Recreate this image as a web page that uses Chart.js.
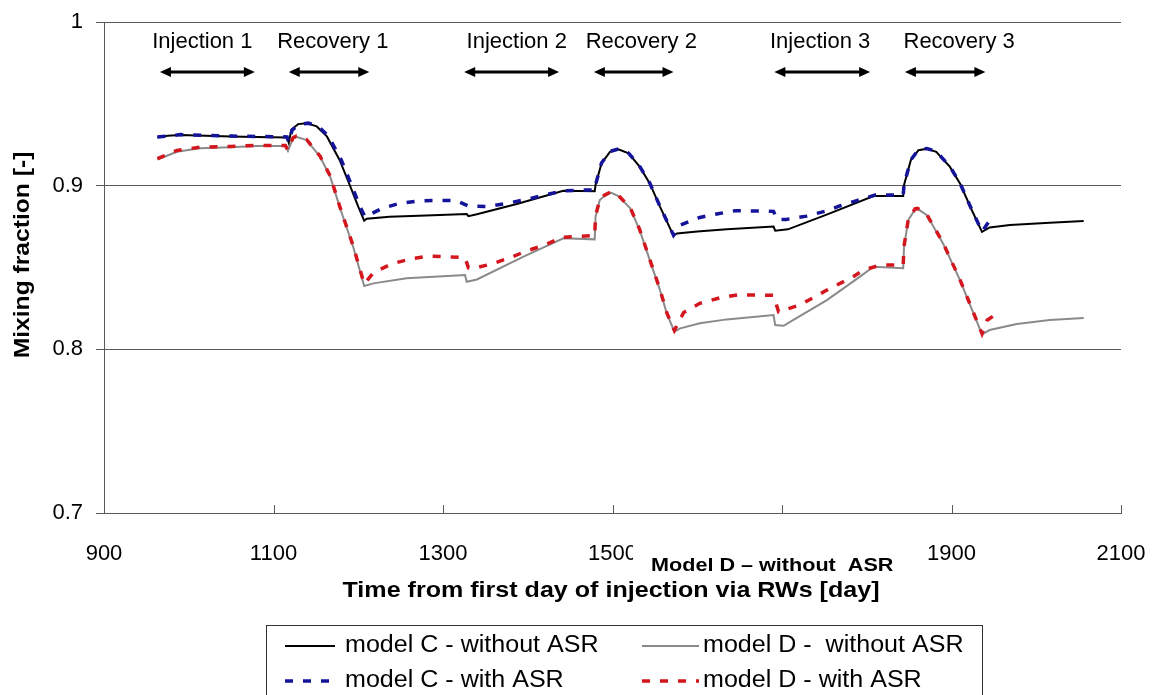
<!DOCTYPE html>
<html>
<head>
<meta charset="utf-8">
<script src="https://cdn.jsdelivr.net/npm/chart.js@4.4.1/dist/chart.umd.min.js"></script>
<style>
  html, body { margin: 0; padding: 0; background: #fff; }
  #wrap { width: 1156px; height: 695px; }
</style>
</head>
<body>
<div id="wrap"><canvas id="mixChart" width="1156" height="695"></canvas></div>
<script>
// axis ticks
const xTicks = [900, 1100, 1300, 1500, 1700, 1900, 2100];
const yTicks = [0.7, 0.8, 0.9, 1];

// model C - without ASR
const cNoDay = [963, 975, 990, 1020, 1050, 1080, 1116, 1118, 1121, 1129, 1139, 1151, 1163, 1178, 1190, 1200, 1207,
  1210, 1237, 1280, 1328, 1330, 1340, 1387, 1442, 1479, 1480, 1487, 1497, 1507, 1519, 1532, 1544, 1556, 1572,
  1576, 1600, 1635, 1690, 1692, 1707, 1755, 1808, 1843, 1844, 1852, 1861, 1871, 1882, 1898, 1910, 1924, 1936,
  1945, 1969, 2016, 2056];
const cNoVal = [0.9295, 0.9305, 0.9310, 0.9305, 0.9300, 0.9298, 0.9295, 0.9262, 0.9342, 0.9376, 0.9382, 0.9362, 0.9301, 0.9157, 0.9004, 0.8872, 0.8786,
  0.8798, 0.8810, 0.8818, 0.8827, 0.8814, 0.8825, 0.8888, 0.8969, 0.8966, 0.9004, 0.9136, 0.9207, 0.9222, 0.9197, 0.9116, 0.9014, 0.8872, 0.8694,
  0.8708, 0.8720, 0.8733, 0.8750, 0.8725, 0.8733, 0.8828, 0.8937, 0.8937, 0.9004, 0.9156, 0.9217, 0.9225, 0.9207, 0.9116, 0.9014, 0.8850, 0.8718,
  0.8745, 0.8759, 0.8773, 0.8784];

// model C - with ASR
const cAsrDay = [963, 990, 1020, 1050, 1080, 1116, 1118, 1122, 1131, 1141, 1153, 1165, 1180, 1192, 1202, 1208,
  1228, 1249, 1273, 1294, 1316, 1330, 1353, 1375, 1399, 1420, 1442, 1464, 1479, 1480, 1487, 1497, 1507, 1519,
  1532, 1544, 1556, 1572, 1580, 1603, 1623, 1645, 1674, 1690, 1694, 1705, 1729, 1753, 1768, 1790, 1810, 1843,
  1844, 1852, 1861, 1871, 1882, 1898, 1910, 1924, 1936, 1946];
const cAsrVal = [0.9297, 0.9312, 0.9307, 0.9303, 0.9301, 0.9298, 0.9265, 0.9340, 0.9376, 0.9382, 0.9362, 0.9301, 0.9157, 0.9004, 0.8872, 0.8810,
  0.8861, 0.8892, 0.8908, 0.8910, 0.8908, 0.8876, 0.8872, 0.8892, 0.8916, 0.8943, 0.8969, 0.8973, 0.8973, 0.9006, 0.9138, 0.9209, 0.9224, 0.9199,
  0.9118, 0.9016, 0.8874, 0.8697, 0.8759, 0.8806, 0.8827, 0.8847, 0.8845, 0.8843, 0.8794, 0.8794, 0.8814, 0.8847, 0.8876, 0.8912, 0.8943, 0.8943,
  0.9006, 0.9158, 0.9219, 0.9227, 0.9209, 0.9118, 0.9016, 0.8852, 0.8720, 0.8794];

// model D - without ASR
const dNoDay = [963, 986, 1013, 1049, 1080, 1114, 1117, 1123, 1127, 1139, 1155, 1167, 1178, 1182, 1194, 1207,
  1218, 1257, 1326, 1328, 1340, 1395, 1442, 1479, 1480, 1485, 1490, 1498, 1507, 1521, 1532, 1544, 1556, 1564,
  1573, 1580, 1603, 1635, 1690, 1692, 1702, 1710, 1753, 1792, 1808, 1843, 1844, 1849, 1857, 1860, 1871, 1890,
  1910, 1926, 1936, 1945, 1977, 2016, 2056];
const dNoVal = [0.9160, 0.9207, 0.9228, 0.9234, 0.9242, 0.9242, 0.9213, 0.9289, 0.9299, 0.9279, 0.9177, 0.9054, 0.8872, 0.8810, 0.8627, 0.8387,
  0.8403, 0.8434, 0.8454, 0.8413, 0.8427, 0.8566, 0.8678, 0.8672, 0.8810, 0.8912, 0.8935, 0.8958, 0.8936, 0.8861, 0.8729, 0.8545, 0.8362, 0.8220,
  0.8108, 0.8128, 0.8159, 0.8183, 0.8210, 0.8148, 0.8144, 0.8169, 0.8301, 0.8444, 0.8505, 0.8495, 0.8627, 0.8790, 0.8855, 0.8858, 0.8820, 0.8647,
  0.8423, 0.8220, 0.8092, 0.8118, 0.8155, 0.8179, 0.8191];

// model D - with ASR
const dAsrDay = [963, 986, 1013, 1049, 1080, 1114, 1117, 1123, 1127, 1139, 1155, 1167, 1178, 1182, 1194, 1207,
  1218, 1239, 1261, 1283, 1304, 1326, 1330, 1336, 1357, 1379, 1399, 1420, 1440, 1479, 1480, 1485, 1490, 1498,
  1507, 1521, 1532, 1544, 1556, 1564, 1573, 1584, 1603, 1627, 1647, 1670, 1690, 1696, 1721, 1753, 1784, 1796,
  1816, 1843, 1844, 1849, 1857, 1860, 1871, 1890, 1910, 1926, 1936, 1942, 1957];
const dAsrVal = [0.9165, 0.9215, 0.9235, 0.9240, 0.9246, 0.9245, 0.9218, 0.9292, 0.9302, 0.9282, 0.9180, 0.9058, 0.8876, 0.8814, 0.8632, 0.8400,
  0.8468, 0.8521, 0.8552, 0.8570, 0.8566, 0.8560, 0.8498, 0.8495, 0.8521, 0.8560, 0.8602, 0.8637, 0.8684, 0.8696, 0.8815, 0.8915, 0.8940, 0.8962,
  0.8940, 0.8865, 0.8733, 0.8549, 0.8366, 0.8224, 0.8115, 0.8225, 0.8281, 0.8315, 0.8332, 0.8332, 0.8330, 0.8230, 0.8271, 0.8362, 0.8444, 0.8484,
  0.8515, 0.8515, 0.8630, 0.8793, 0.8858, 0.8861, 0.8823, 0.8650, 0.8426, 0.8223, 0.8095, 0.8178, 0.8230];

// injection / recovery periods shown as arrows along the top
const phaseNames = ['Injection 1', 'Recovery 1', 'Injection 2', 'Recovery 2', 'Injection 3', 'Recovery 3'];
const phaseStart = [966, 1118, 1325, 1478, 1691, 1845];
const phaseEnd = [1078, 1213, 1437, 1572, 1804, 1940];
const phaseLabelDay = [1016, 1170, 1387, 1534, 1745, 1909];
const arrowLevel = 0.9694;
const phaseLabelLevel = 0.9880;

const FONT = "'Liberation Sans', Arial, sans-serif";

function pts(days, vals) {
  return days.map((d, i) => ({ x: d, y: vals[i] }));
}

// text with a slight horizontal stretch
function stretchText(ctx, text, x, y, font, align, sx) {
  ctx.save();
  ctx.font = font;
  ctx.textBaseline = 'middle';
  ctx.textAlign = align;
  ctx.translate(x, y);
  ctx.scale(sx, 1);
  ctx.fillStyle = '#000';
  ctx.fillText(text, 0, 0);
  ctx.restore();
}

function arrowHead(ctx, x, y, dir) {
  ctx.beginPath();
  ctx.moveTo(x, y);
  ctx.lineTo(x - dir * 11, y - 5);
  ctx.lineTo(x - dir * 11, y + 5);
  ctx.closePath();
  ctx.fill();
}

const extras = {
  id: 'extras',
  afterDraw(chart) {
    const ctx = chart.ctx;
    const xs = chart.scales.x, ys = chart.scales.y;
    const area = chart.chartArea;

    // x tick marks point up into the plot
    ctx.save();
    ctx.strokeStyle = '#5a5a5a';
    ctx.lineWidth = 1;
    xTicks.slice(1).forEach(t => {
      const px = Math.round(xs.getPixelForValue(t)) + 0.5;
      ctx.beginPath();
      ctx.moveTo(px, area.bottom);
      ctx.lineTo(px, area.bottom - 8);
      ctx.stroke();
    });
    ctx.restore();

    // period arrows and labels
    ctx.save();
    ctx.strokeStyle = '#000';
    ctx.fillStyle = '#000';
    ctx.lineWidth = 3;
    const ay = ys.getPixelForValue(arrowLevel);
    const ly = ys.getPixelForValue(phaseLabelLevel);
    phaseNames.forEach((name, i) => {
      const x1 = xs.getPixelForValue(phaseStart[i]);
      const x2 = xs.getPixelForValue(phaseEnd[i]);
      ctx.beginPath();
      ctx.moveTo(x1 + 6, ay);
      ctx.lineTo(x2 - 6, ay);
      ctx.stroke();
      arrowHead(ctx, x1, ay, -1);
      arrowHead(ctx, x2, ay, 1);
      stretchText(ctx, name, xs.getPixelForValue(phaseLabelDay[i]), ly, '22px ' + FONT, 'center', 1);
    });
    ctx.restore();

    // axis titles
    stretchText(ctx, 'Time from first day of injection via RWs [day]', 611, 591, 'bold 22px ' + FONT, 'center', 1.14);
    ctx.save();
    ctx.translate(23, 255);
    ctx.rotate(-Math.PI / 2);
    stretchText(ctx, 'Mixing fraction [-]', 0, 0, 'bold 22px ' + FONT, 'center', 1.12);
    ctx.restore();

    // caption box sitting over the tick row
    ctx.save();
    ctx.fillStyle = '#fff';
    ctx.fillRect(633, 536, 268, 42);
    ctx.restore();
    stretchText(ctx, 'Model D \u2013 without  ASR', 651, 566, 'bold 18px ' + FONT, 'left', 1.2);

    // legend box
    ctx.save();
    ctx.strokeStyle = '#333';
    ctx.lineWidth = 1;
    ctx.strokeRect(266.5, 625.5, 716, 80);
    const rows = [
      { ds: 0, x: 285, w: 50, tx: 345, y: 646 },
      { ds: 2, x: 642, w: 57, tx: 703, y: 646 },
      { ds: 1, x: 285, w: 50, tx: 345, y: 681 },
      { ds: 3, x: 642, w: 57, tx: 703, y: 681 }
    ];
    rows.forEach(r => {
      const d = chart.data.datasets[r.ds];
      ctx.save();
      ctx.strokeStyle = d.borderColor;
      ctx.lineWidth = d.borderWidth;
      ctx.setLineDash(d.borderDash || []);
      ctx.beginPath();
      ctx.moveTo(r.x, r.y);
      ctx.lineTo(r.x + r.w, r.y);
      ctx.stroke();
      ctx.restore();
      stretchText(ctx, d.label, r.tx, r.y, '23px ' + FONT, 'left', 1.09);
    });
    ctx.restore();
  }
};

new Chart(document.getElementById('mixChart'), {
  type: 'line',
  data: {
    datasets: [
      { label: 'model C - without ASR', data: pts(cNoDay, cNoVal), borderColor: '#000000', borderWidth: 2, order: 1 },
      { label: 'model C - with ASR', data: pts(cAsrDay, cAsrVal), borderColor: '#14149a', borderWidth: 3.5, borderDash: [8, 10], order: 0 },
      { label: 'model D -  without ASR', data: pts(dNoDay, dNoVal), borderColor: '#8a8a8a', borderWidth: 2, order: 1 },
      { label: 'model D - with ASR', data: pts(dAsrDay, dAsrVal), borderColor: '#d4161e', borderWidth: 3.5, borderDash: [8, 10], order: 0 }
    ]
  },
  options: {
    responsive: false,
    animation: false,
    parsing: false,
    elements: {
      point: { radius: 0 },
      line: { tension: 0, fill: false, borderCapStyle: 'butt' }
    },
    layout: { padding: { top: 22, right: 35, left: 0, bottom: 0 } },
    plugins: {
      legend: { display: false },
      tooltip: { enabled: false }
    },
    scales: {
      x: {
        type: 'linear',
        min: 900,
        max: 2100,
        afterBuildTicks: s => { s.ticks = xTicks.map(v => ({ value: v })); },
        afterFit: s => { s.height = 182; s.paddingLeft = 0; s.paddingRight = 0; },
        grid: { display: false, drawTicks: false },
        border: { display: true, color: '#5a5a5a', width: 1 },
        ticks: {
          color: '#000',
          padding: 28,
          maxRotation: 0,
          autoSkip: false,
          font: { family: FONT, size: 22 },
          callback: v => String(v)
        }
      },
      y: {
        min: 0.7,
        max: 1,
        afterBuildTicks: s => { s.ticks = yTicks.map(v => ({ value: v })); },
        afterFit: s => { s.width = 104; s.paddingTop = 0; s.paddingBottom = 0; },
        grid: { color: '#5a5a5a', lineWidth: 1, tickLength: 8, drawTicks: true },
        border: { display: true, color: '#5a5a5a', width: 1 },
        ticks: {
          color: '#000',
          padding: 13,
          font: { family: FONT, size: 22 },
          callback: v => (Math.abs(v - 1) < 1e-9 ? '1' : v.toFixed(1))
        }
      }
    }
  },
  plugins: [extras]
});
</script>
</body>
</html>
